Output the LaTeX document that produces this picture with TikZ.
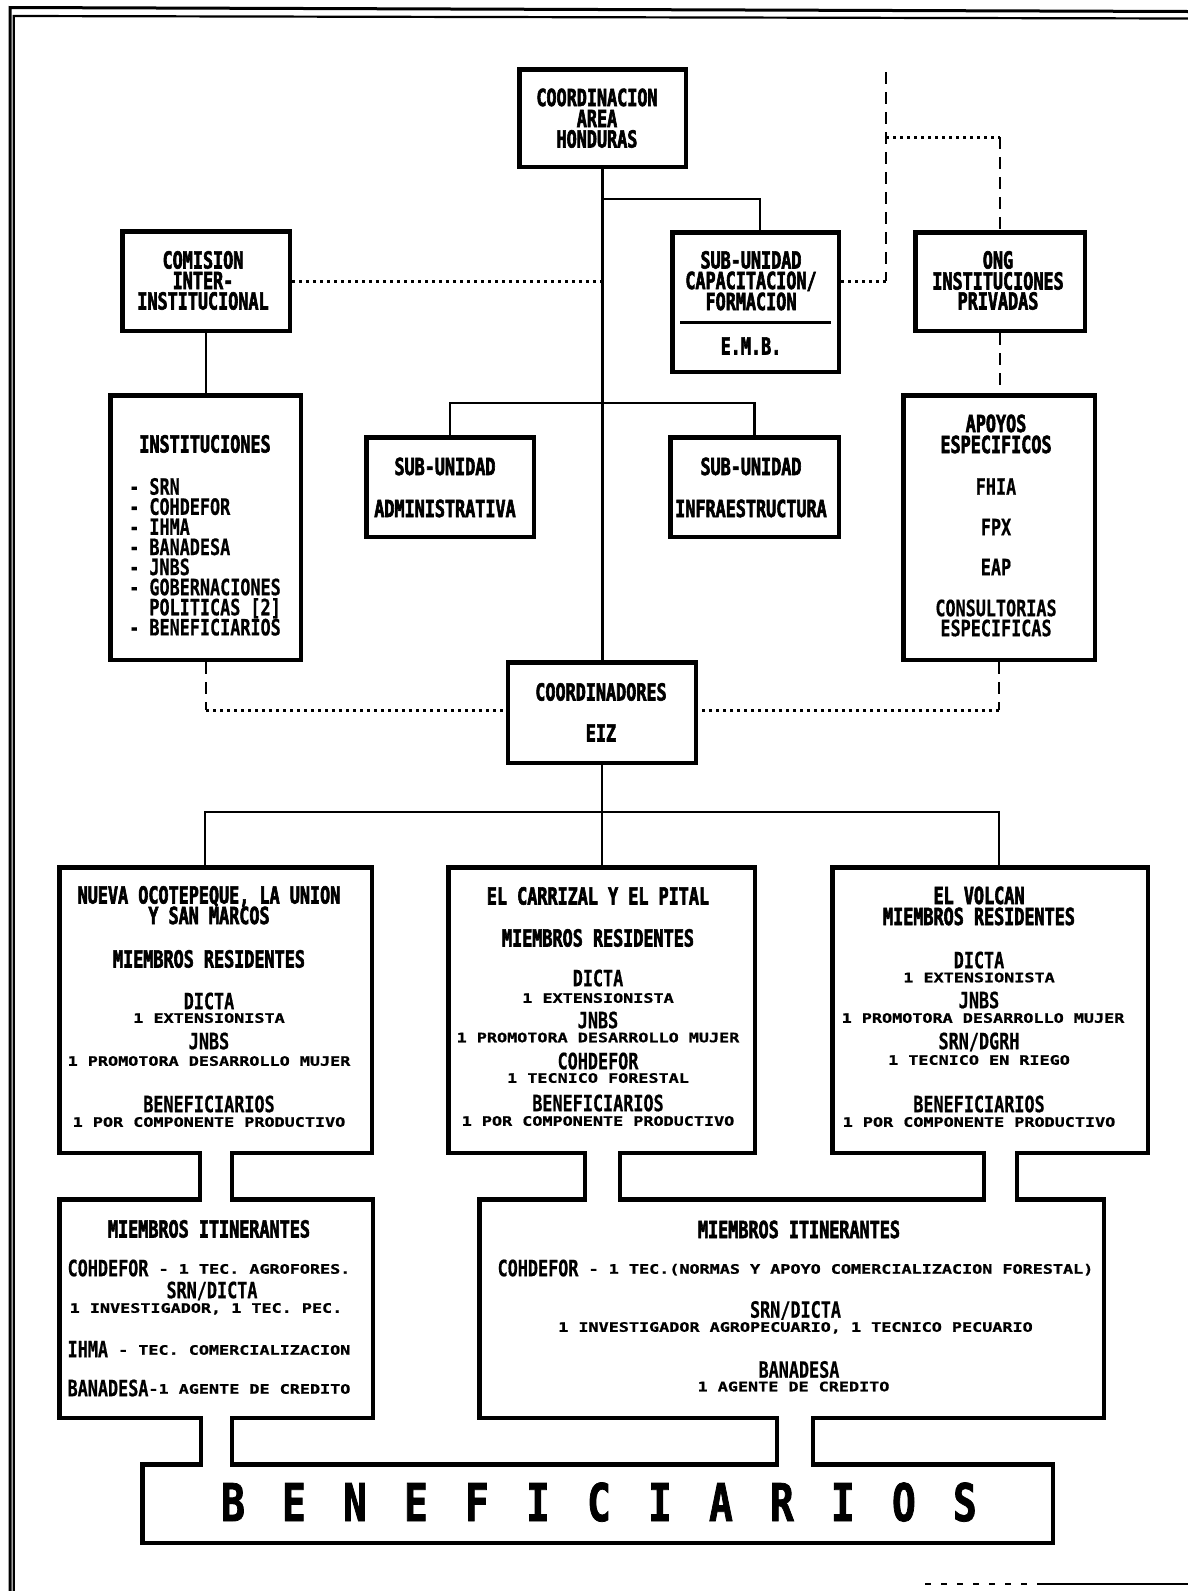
\documentclass[tikz,border=0pt]{standalone}
\usepackage{fontspec}
\usetikzlibrary{calc}
\newfontfamily\FamA{DejaVu Sans Mono}[FakeStretch=0.714,FakeBold=2.5]
\newfontfamily\FamB{DejaVu Sans Mono}[FakeStretch=0.746,FakeBold=0.6]
\newfontfamily\FamC{DejaVu Sans Mono}[FakeStretch=1.29,FakeBold=1]
\newfontfamily\FamD{DejaVu Sans Mono}[FakeStretch=0.76,FakeBold=1.5]
\newcommand\fnA{\FamA\bfseries\fontsize{23.5pt}{20pt}\selectfont}
\newcommand\fnB{\FamB\bfseries\fontsize{22.5pt}{20pt}\selectfont}
\newcommand\fnC{\FamC\bfseries\fontsize{13pt}{14pt}\selectfont}
\newcommand\fnD{\FamD\bfseries\fontsize{52pt}{52pt}\selectfont}
\newcommand\lgap{\hspace{37.2pt}}
\newcommand\cpart[1]{\raisebox{2.5pt}{\fnC #1}}
\tikzset{
 box/.style={draw, line width=4.5pt, inner sep=0pt},
 ta/.style={font=\fnA, inner sep=0pt, text height=17pt, text depth=0pt},
 tb/.style={font=\fnB, inner sep=0pt, text height=16.4pt, text depth=0pt},
 tc/.style={font=\fnC, inner sep=0pt, text height=9.5pt, text depth=0pt},
 td/.style={font=\fnD, inner sep=0pt, text height=38pt, text depth=0pt},
 conn/.style={line width=2.8pt},
 dotline/.style={line width=3pt, dash pattern=on 3pt off 4pt},
 dashline/.style={line width=2.5pt, dash pattern=on 12pt off 8pt},
 wall/.style={line width=4.5pt, line cap=rect},
}
\newcommand\tubo[4]{%
  \coordinate (pa) at (#3,0); \coordinate (pb) at (#4,0);
  \fill[white] ($(#1.south -| pa)+(2.4,-6)$) rectangle ($(#2.north -| pb)+(-2.4,6)$);
  \draw[wall] (#1.south -| pa) -- (#2.north -| pa);
  \draw[wall] (#1.south -| pb) -- (#2.north -| pb);}
\begin{document}
\begin{tikzpicture}[x=1pt,y=-1pt]
\fill[white] (0,0) rectangle (1188,1591);
\useasboundingbox (0,0) rectangle (1188,1591);
% page frame
\draw[line width=3pt] (10,1591) -- (10,7.5) -- (1188,11.5);
\draw[line width=2.2pt] (13.7,1591) -- (13.7,16) -- (1188,18.5);
\draw[line width=2.5pt] (1040,1584) -- (1188,1584);
\draw[line width=1.5pt, dash pattern=on 6pt off 10pt] (925,1584) -- (1040,1584);

% boxes
\node[box, minimum width=166.5pt, minimum height=97.5pt] (coord) at (602.5,118) {};
\node[box, minimum width=167.5pt, minimum height=99.5pt] (comision) at (206,281) {};
\node[box, minimum width=166.5pt, minimum height=139.5pt] (subcap) at (755.5,302) {};
\node[box, minimum width=169.5pt, minimum height=98.5pt] (ong) at (1000,281.5) {};
\node[box, minimum width=190.5pt, minimum height=264.5pt] (instit) at (205.5,527.5) {};
\node[box, minimum width=167.5pt, minimum height=99.5pt] (admin) at (450,487) {};
\node[box, minimum width=168.5pt, minimum height=99.5pt] (infra) at (754.5,487) {};
\node[box, minimum width=191.5pt, minimum height=264.5pt] (apoyos) at (999,527.5) {};
\node[box, minimum width=188pt, minimum height=100.5pt] (coordz) at (602,712.5) {};
\node[box, minimum width=312.5pt, minimum height=285.5pt] (b1) at (215.5,1010) {};
\node[box, minimum width=306.5pt, minimum height=285.5pt] (b2) at (601.5,1010) {};
\node[box, minimum width=315.5pt, minimum height=285.5pt] (b3) at (990,1010) {};
\node[box, minimum width=313.5pt, minimum height=218.5pt] (i1) at (216,1308.5) {};
\node[box, minimum width=624.5pt, minimum height=218.5pt] (i2) at (791.5,1308.5) {};
\node[box, minimum width=910.5pt, minimum height=78.5pt] (ben) at (597.5,1503.5) {};

% solid connectors
\coordinate (tb) at (760,199);
\coordinate (ab) at (602,403);
\coordinate (bl) at (205,812);
\coordinate (br) at (999,812);
\draw[conn] (coord.south) -- (coord.south |- coordz.north);
\draw[conn] (coord.south |- tb) -- (tb) -- (subcap.north -| tb);
\draw[conn] (admin.north) |- (ab) -| (infra.north);
\draw[conn] (comision.south) -- (comision.south |- instit.north);
\draw[conn] (coordz.south) -- (coordz.south |- b2.north);
\draw[conn] (b1.north -| bl) -- (bl) -- (br) -- (b3.north -| br);
% dotted / dashed connectors
\coordinate (dv) at (886,281);
\coordinate (dvtop) at (886,72);
\coordinate (dh) at (886,137);
\coordinate (ll) at (206,710);
\coordinate (rr) at (999,710);
\draw[dotline] (comision.east) -- (comision.east -| coord.south);
\draw[dotline] (subcap.east |- dv) -- (dv);
\draw[dashline] (dvtop) -- (dv);
\draw[dotline] (dh) -- (dh -| ong.north);
\draw[dashline] (dh -| ong.north) -- (ong.north);
\draw[dashline] (ong.south) -- (ong.south |- apoyos.north);
\draw[dashline] (instit.south -| ll) -- (ll);
\draw[dotline] (ll) -- (ll -| coordz.west);
\draw[dashline] (apoyos.south -| rr) -- (rr);
\draw[dotline] (rr) -- (rr -| coordz.east);
% separator in sub-unidad capacitacion
\draw[line width=3pt] ($(subcap.west)+(10,20)$) -- ($(subcap.east)+(-10,20)$);

% pipes
\tubo{b1}{i1}{200}{232}
\tubo{b2}{i2}{585}{620}
\tubo{b3}{i2}{984}{1017}
\tubo{i1}{ben}{201}{232}
\tubo{i2}{ben}{777}{813}

% texts: top
\node[ta] (t01) at (597,97.5) {COORDINACION};
\node[ta] (t02) at (597,118.5) {AREA};
\node[ta] (t03) at (597,139) {HONDURAS};
\node[ta] (t04) at (203,260) {COMISION};
\node[ta] (t05) at (203,280.5) {INTER-};
\node[ta] (t06) at (203,301) {INSTITUCIONAL};
\node[ta] (t07) at (751,260) {SUB-UNIDAD};
\node[ta] (t08) at (751,280.5) {CAPACITACION/};
\node[ta] (t09) at (751,301.5) {FORMACION};
\node[ta] (t10) at (751,346) {E.M.B.};
\node[ta] (t11) at (998,260) {ONG};
\node[ta] (t12) at (998,281) {INSTITUCIONES};
\node[ta] (t13) at (998,301) {PRIVADAS};
% instituciones
\node[ta] (t14) at (205,444) {INSTITUCIONES};
\node[tb, anchor=west] (t15) at (129,486.5) {- SRN};
\node[tb, anchor=west] (t16) at (129,506.6) {- COHDEFOR};
\node[tb, anchor=west] (t17) at (129,526.7) {- IHMA};
\node[tb, anchor=west] (t18) at (129,546.8) {- BANADESA};
\node[tb, anchor=west] (t19) at (129,566.9) {- JNBS};
\node[tb, anchor=west] (t20) at (129,587) {- GOBERNACIONES};
\node[tb, anchor=west] (t21) at (149.2,607.1) {POLITICAS [2]};
\node[tb, anchor=west] (t22) at (129,627.2) {- BENEFICIARIOS};
% sub-unidades
\node[ta] (t23) at (445,466.5) {SUB-UNIDAD};
\node[ta] (t24) at (445,508.5) {ADMINISTRATIVA};
\node[ta] (t25) at (751,466.5) {SUB-UNIDAD};
\node[ta] (t26) at (751,508.5) {INFRAESTRUCTURA};
% apoyos
\node[ta] (t27) at (996,423.5) {APOYOS};
\node[ta] (t28) at (996,444.5) {ESPECIFICOS};
\node[tb] (t29) at (996,486.5) {FHIA};
\node[tb] (t30) at (996,527) {FPX};
\node[tb] (t31) at (996,567) {EAP};
\node[tb] (t32) at (996,608) {CONSULTORIAS};
\node[tb] (t33) at (996,628) {ESPECIFICAS};
% coordinadores
\node[ta] (t34) at (601,692) {COORDINADORES};
\node[ta] (t35) at (601,733) {EIZ};
% box 1
\node[ta] (t36) at (209,895) {NUEVA OCOTEPEQUE, LA UNION};
\node[ta] (t37) at (209,915.5) {Y SAN MARCOS};
\node[ta] (t38) at (209,959) {MIEMBROS RESIDENTES};
\node[tb] (t39) at (209,1001) {DICTA};
\node[tc] (t40) at (209,1018) {1 EXTENSIONISTA};
\node[tb] (t41) at (209,1041) {JNBS};
\node[tc] (t42) at (209,1061) {1 PROMOTORA DESARROLLO MUJER};
\node[tb] (t43) at (209,1104) {BENEFICIARIOS};
\node[tc] (t44) at (209,1122) {1 POR COMPONENTE PRODUCTIVO};
% box 2
\node[ta] (t45) at (598,896) {EL CARRIZAL Y EL PITAL};
\node[ta] (t46) at (598,938) {MIEMBROS RESIDENTES};
\node[tb] (t47) at (598,978) {DICTA};
\node[tc] (t48) at (598,998) {1 EXTENSIONISTA};
\node[tb] (t49) at (598,1020) {JNBS};
\node[tc] (t50) at (598,1037.5) {1 PROMOTORA DESARROLLO MUJER};
\node[tb] (t51) at (598,1061) {COHDEFOR};
\node[tc] (t52) at (598,1078) {1 TECNICO FORESTAL};
\node[tb] (t53) at (598,1103) {BENEFICIARIOS};
\node[tc] (t54) at (598,1121) {1 POR COMPONENTE PRODUCTIVO};
% box 3
\node[ta] (t55) at (979,895.5) {EL VOLCAN};
\node[ta] (t56) at (979,916.5) {MIEMBROS RESIDENTES};
\node[tb] (t57) at (979,960) {DICTA};
\node[tc] (t58) at (979,977.5) {1 EXTENSIONISTA};
\node[tb] (t59) at (979,1000) {JNBS};
\node[tc] (t60) at (983,1018) {1 PROMOTORA DESARROLLO MUJER};
\node[tb] (t61) at (979,1041) {SRN/DGRH};
\node[tc] (t62) at (979,1060) {1 TECNICO EN RIEGO};
\node[tb] (t63) at (979,1104) {BENEFICIARIOS};
\node[tc] (t64) at (979,1122) {1 POR COMPONENTE PRODUCTIVO};
% itinerantes 1
\node[ta] (t65) at (209,1229) {MIEMBROS ITINERANTES};
\node[tb] (t66) at (209,1268) {COHDEFOR\cpart{\ - 1 TEC. AGROFORES.}};
\node[tb] (t67) at (212,1290) {SRN/DICTA};
\node[tc] (t68) at (206,1308) {1 INVESTIGADOR, 1 TEC. PEC.};
\node[tb] (t69) at (209,1349) {IHMA\cpart{\ - TEC. COMERCIALIZACION}};
\node[tb] (t70) at (209,1388) {BANADESA\cpart{-1 AGENTE DE CREDITO}};
% itinerantes 2
\node[ta] (t71) at (799,1229.5) {MIEMBROS ITINERANTES};
\node[tb] (t72) at (795.5,1268) {COHDEFOR\cpart{\ - 1 TEC.(NORMAS Y APOYO COMERCIALIZACION FORESTAL)}};
\node[tb] (t73) at (795.5,1309.5) {SRN/DICTA};
\node[tc] (t74) at (795.5,1327) {1 INVESTIGADOR AGROPECUARIO, 1 TECNICO PECUARIO};
\node[tb] (t75) at (799,1369.5) {BANADESA};
\node[tc] (t76) at (793.5,1386.5) {1 AGENTE DE CREDITO};
% beneficiarios
\node[td] (t77) at (599,1502) {B\lgap E\lgap N\lgap E\lgap F\lgap I\lgap C\lgap I\lgap A\lgap R\lgap I\lgap O\lgap S};
\end{tikzpicture}
\end{document}
